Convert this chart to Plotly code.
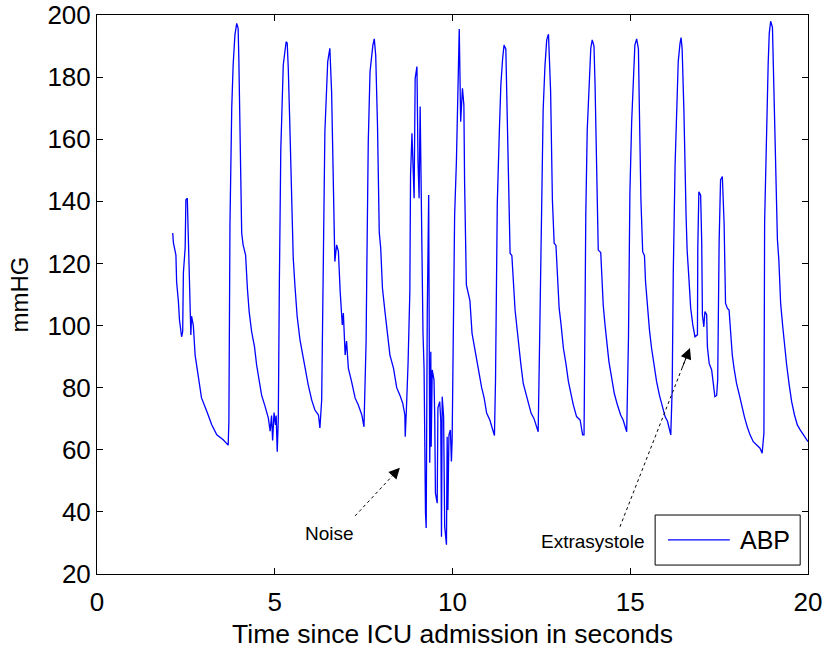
import plotly.graph_objects as go

time_s = [2.13, 2.15, 2.22, 2.24, 2.29, 2.32, 2.38, 2.41, 2.43, 2.48, 2.50, 2.54, 2.57, 2.62, 2.64, 2.66, 2.71, 2.76, 2.85, 2.94,
          3.09, 3.23, 3.37, 3.55, 3.69, 3.71, 3.74, 3.79, 3.83, 3.88, 3.93, 3.97, 3.99, 4.04, 4.07, 4.11, 4.18, 4.23, 4.28, 4.35,
          4.43, 4.49, 4.56, 4.63, 4.73, 4.82, 4.87, 4.91, 4.94, 4.98, 5.02, 5.04, 5.07, 5.10, 5.13, 5.17, 5.24, 5.32,
          5.35, 5.38, 5.43, 5.48, 5.52, 5.57, 5.63, 5.71, 5.79, 5.85, 5.94, 6.04, 6.13, 6.23, 6.27, 6.32, 6.37, 6.41, 6.49, 6.55,
          6.60, 6.65, 6.69, 6.74, 6.79, 6.84, 6.90, 6.93, 6.98, 7.02, 7.07, 7.16, 7.26, 7.35, 7.45, 7.51, 7.57, 7.59, 7.63, 7.68,
          7.76, 7.80, 7.84, 7.89, 7.94, 7.98, 8.03, 8.10, 8.17, 8.24, 8.34, 8.43, 8.52, 8.60, 8.66, 8.67, 8.70, 8.73, 8.75, 8.80,
          8.82, 8.86, 8.89, 8.92, 8.95, 9.00, 9.03, 9.06, 9.09, 9.12, 9.15, 9.17, 9.20, 9.21, 9.24, 9.26, 9.29, 9.33, 9.36, 9.39,
          9.40, 9.43, 9.48, 9.50, 9.52, 9.57, 9.59, 9.64, 9.67, 9.69, 9.71, 9.75, 9.78, 9.83, 9.85, 9.87, 9.90, 9.94, 9.97, 9.99,
          10.03, 10.06, 10.11, 10.15, 10.19, 10.23, 10.28, 10.32, 10.34, 10.39, 10.44, 10.49, 10.55, 10.63, 10.70, 10.75, 10.82,
          10.89, 10.96, 11.05, 11.12, 11.18, 11.21, 11.26, 11.32, 11.36, 11.41, 11.45, 11.50, 11.52, 11.57, 11.62, 11.67, 11.71,
          11.76, 11.81, 11.85, 11.92, 11.99, 12.07, 12.13, 12.21, 12.29, 12.37, 12.41, 12.46, 12.51, 12.55, 12.60, 12.65, 12.70,
          12.72, 12.76, 12.81, 12.86, 12.91, 12.95, 13.00, 13.05, 13.12, 13.19, 13.26, 13.33, 13.40, 13.49, 13.59, 13.66, 13.70,
          13.71, 13.75, 13.79, 13.84, 13.89, 13.93, 13.98, 14.01, 14.06, 14.10, 14.17, 14.20, 14.24, 14.29, 14.34, 14.40, 14.48,
          14.55, 14.64, 14.73, 14.80, 14.90, 14.95, 14.99, 15.04, 15.09, 15.13, 15.18, 15.23, 15.25, 15.30, 15.35, 15.40, 15.43,
          15.49, 15.54, 15.60, 15.67, 15.74, 15.82, 15.90, 15.98, 16.05, 16.14, 16.18, 16.21, 16.26, 16.31, 16.35, 16.40, 16.43,
          16.46, 16.51, 16.57, 16.60, 16.65, 16.70, 16.76, 16.82, 16.89, 16.90, 16.93, 16.98, 17.01, 17.03, 17.07, 17.10, 17.15,
          17.17, 17.22, 17.29, 17.34, 17.38, 17.43, 17.46, 17.50, 17.54, 17.59, 17.64, 17.68, 17.73, 17.78, 17.83, 17.87, 17.92,
          17.99, 18.07, 18.13, 18.21, 18.29, 18.37, 18.46, 18.56, 18.65, 18.71, 18.76, 18.78, 18.84, 18.88, 18.91, 18.95, 19.00,
          19.02, 19.09, 19.14, 19.18, 19.23, 19.29, 19.33, 19.40, 19.47, 19.54, 19.62, 19.70, 19.78, 19.87, 20.00]

abp_mmhg = [129.8, 126.6, 122.7, 114, 107.7, 101.8, 96.4, 98, 117, 125, 140.5, 141, 128, 104.5, 97, 103, 100, 90.5, 83, 76.7,
            72.3, 68, 64.8, 63.2, 61.5, 69, 132.4, 170, 184, 193.6, 197.3, 195.7, 186, 157, 129.8, 126, 122.7, 112, 104.5, 98,
            93.2, 87.3, 82, 77.6, 73.9, 70.2, 66, 71, 63, 72, 68, 71, 59.4, 70, 114, 156.5, 184, 191.4,
            191, 183, 162, 133, 121.7, 112.5, 103, 95.4, 90.5, 86.3, 81, 76, 72.8, 71.2, 67, 76, 130, 162.4, 185, 189.3,
            175, 146, 120.6, 126, 124, 111, 100.2, 104, 90.5, 95, 86.3, 82, 76.7, 74.4, 71.2, 67.4, 95, 118, 158.8, 181.7,
            190.3, 192.3, 187, 164.6, 130, 125, 112, 104.5, 98, 90.5, 86.3, 80, 77.6, 75, 71.2, 64.2, 72, 79.3, 87.8, 110.9,
            148.5, 161.9, 151, 141, 179.6, 183.4, 152.8, 141, 170.5, 136.7, 110, 97.6, 86.3, 68.6, 39.7, 34.8, 104, 142, 55.8, 91.6,
            61, 85.7, 82.5, 70.7, 46, 42.8, 73.5, 75.5, 69.6, 32, 77.1, 70.7, 35.3, 29.4, 64.2, 40.6, 64.8, 66.4, 56.2, 63.2,
            104, 135.6, 152.8, 176.4, 195.5, 165.6, 176.4, 171, 146.3, 113.1, 110, 108, 97.5, 92, 88.4, 84.6, 80,
            76.7, 71.8, 69.6, 66.4, 64.6, 82.5, 139.4, 163.5, 177.5, 186, 190.3, 189, 178, 146.9, 123.3, 122.5, 114.7,
            105, 99.6, 94.3, 87.8, 81.4, 77.6, 75, 71.8, 70.1, 67.4, 65.8, 101.8, 136.7, 169.4, 183.4, 192, 193.8,
            186.6, 175.3, 140.4, 126.5, 125.8, 115.2, 105.6, 100.7, 92.7, 87.8, 82, 78.2, 74.4, 70.7, 69.6, 64.8, 64.8,
            78.2, 136.2, 163, 177, 189.3, 192, 190, 177.5, 146.3, 124.3, 123.5, 115.8, 106.6, 100.2, 93.8, 88.4, 83,
            78.2, 74.4, 71.2, 69.6, 65.8, 95.9, 142.6, 165.6, 178.5, 190.3, 192.3, 189, 174.2, 140.4, 123.8, 122.5, 114.1,
            105, 98.6, 92.7, 87.3, 82, 77.6, 73.9, 70.7, 69.1, 64.8, 79.8, 116.8, 151.2, 174.2, 185, 190.9, 192.7,
            189, 168.9, 135.6, 124.3, 115.2, 105.6, 100.2, 96.4, 97, 124.9, 143.1, 142, 127, 103.4, 99.6, 104.5, 103.5,
            93.2, 87.8, 85.7, 81, 77.1, 77.5, 82.5, 127, 146.9, 148, 133, 107.2, 105.6, 105, 96.4, 90.5, 86.2,
            81.4, 77.6, 74.4, 70.7, 67.4, 64.8, 62.6, 61.5, 60.5, 58.9, 65.3, 133.5, 171, 184.4, 194.1, 198, 196,
            185.5, 155.5, 127.6, 121.1, 107.2, 99.6, 94.3, 87.3, 81, 75.5, 71.2, 68, 66.4, 64.8, 62.6]

series_name = "ABP"
x_title = "Time since ICU admission in seconds"
y_title = "mmHG"
x_ticks = [0, 5, 10, 15, 20]
y_ticks = [20, 40, 60, 80, 100, 120, 140, 160, 180, 200]

# annotations: (label, text x, text y, arrow tail x, tail y, arrow tip x, tip y)
notes = [
    ("Noise", 6.53, 33.2, 7.26, 38.7, 8.52, 54.2),
    ("Extrasystole", 13.95, 30.6, 14.71, 35.2, 16.68, 92.8),
]

FONT = "Liberation Sans, Arial, sans-serif"
BLUE = "#0000ff"

fig = go.Figure()
fig.add_trace(go.Scatter(x=time_s, y=abp_mmhg, mode="lines", name=series_name,
                         line=dict(color=BLUE, width=1.3), showlegend=False))

for label, tx, ty, ax_, ay_, hx, hy in notes:
    fig.add_shape(type="line", xref="x", yref="y", x0=ax_, y0=ay_, x1=hx, y1=hy,
                  line=dict(color="black", width=1, dash="dot"))
    fig.add_annotation(x=hx, y=hy, ax=hx - (hx - ax_) * 0.12, ay=hy - (hy - ay_) * 0.12,
                       xref="x", yref="y", axref="x", ayref="y", text="",
                       showarrow=True, arrowhead=2, arrowsize=2.2, arrowwidth=1, arrowcolor="black")
    fig.add_annotation(x=tx, y=ty, xref="x", yref="y", text=label, showarrow=False,
                       font=dict(family=FONT, size=19, color="black"))

# legend box (MATLAB style)
fig.add_shape(type="rect", xref="paper", yref="paper", x0=0.785, x1=0.989, y0=0.016, y1=0.1055,
              line=dict(color="black", width=1), fillcolor="white")
fig.add_shape(type="line", xref="paper", yref="paper", x0=0.803, x1=0.890, y0=0.061, y1=0.061,
              line=dict(color=BLUE, width=1.3))
fig.add_annotation(x=0.9015, y=0.061, xref="paper", yref="paper", text=series_name, showarrow=False,
                   xanchor="left", yanchor="middle", font=dict(family=FONT, size=25, color="black"))

axis_common = dict(showline=True, linecolor="black", linewidth=1, mirror="ticks", ticks="inside",
                   ticklen=6, tickcolor="black", showgrid=False, zeroline=False,
                   tickfont=dict(family=FONT, size=26, color="black"))

fig.update_xaxes(range=[0, 20], tickvals=x_ticks, ticklabelstandoff=5,
                 title=dict(text=x_title, font=dict(family=FONT, size=26.5, color="black"), standoff=8),
                 **axis_common)
fig.update_yaxes(range=[20, 200], tickvals=y_ticks,
                 title=dict(text=y_title, font=dict(family=FONT, size=24, color="black"), standoff=12),
                 **axis_common)

fig.update_layout(width=825, height=649, margin=dict(l=97, r=17, t=15, b=75, autoexpand=False),
                  paper_bgcolor="white", plot_bgcolor="white", showlegend=False)

fig.write_html("out.html", config={"displayModeBar": False},
               post_script="document.body.style.margin='0px';")
